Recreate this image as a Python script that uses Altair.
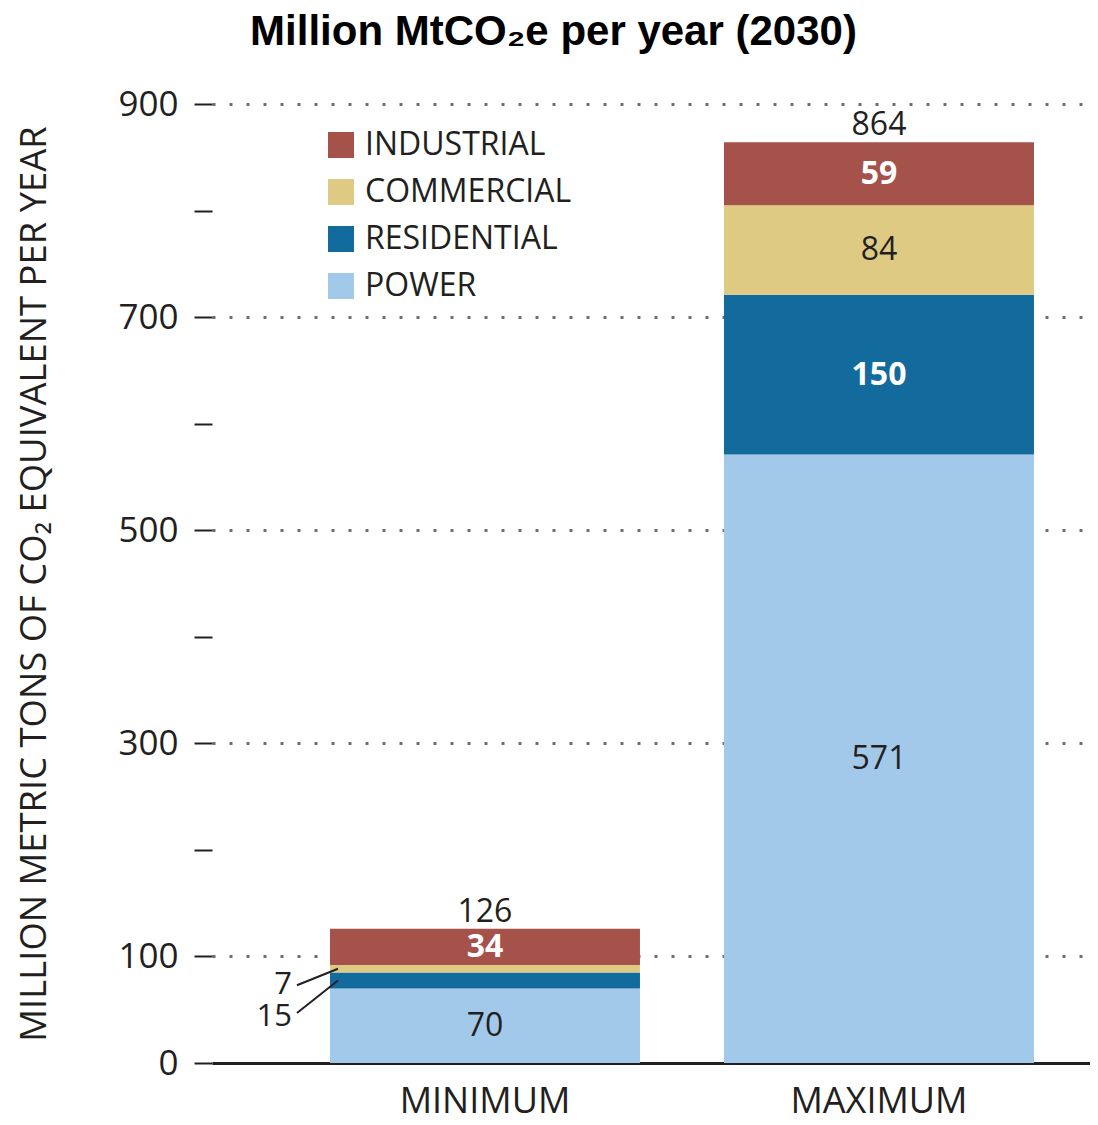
import altair as alt
import pandas as pd

# ---- data ----
scenarios = ["MINIMUM", "MAXIMUM"]
legend_order = ["INDUSTRIAL", "COMMERCIAL", "RESIDENTIAL", "POWER"]
stack_order = ["POWER", "RESIDENTIAL", "COMMERCIAL", "INDUSTRIAL"]
sector_colors = ["#a4524a", "#dfca84", "#136a9c", "#a2c8ea"]
power = [70, 571]
residential = [15, 150]
commercial = [7, 84]
industrial = [34, 59]
totals = [126, 864]
# call-out labels for the thin MINIMUM segments
callout_sector = ["COMMERCIAL", "RESIDENTIAL"]
callout_text = ["7", "15"]
callout_label_y = [73, 43]
callout_line_y = [73, 47]

TEXT = "#231f20"
FONT = "Open Sans"

W, H = 878, 959
P_IN, P_OUT, ALIGN = 0.2132, 0.2208, 0.678
step = W / (len(scenarios) - P_IN + 2 * P_OUT)
half_band = step * (1 - P_IN) / 2

series = {"POWER": power, "RESIDENTIAL": residential,
          "COMMERCIAL": commercial, "INDUSTRIAL": industrial}
rows = []
for i, sc in enumerate(scenarios):
    base = 0
    for k, sec in enumerate(stack_order):
        v = series[sec][i]
        style = "callout" if v < 20 else ("light" if sec in ("INDUSTRIAL", "RESIDENTIAL") else "dark")
        rows.append(dict(scenario=sc, sector=sec, value=v, lo=base, hi=base + v,
                         mid=base + v / 2, style=style))
        base += v
df = pd.DataFrame(rows)
df_tot = pd.DataFrame({"scenario": scenarios, "total": totals})

mids = {r.sector: r.mid for r in df[df.scenario == "MINIMUM"].itertuples()}
df_call = pd.DataFrame({
    "scenario": ["MINIMUM"] * len(callout_text),
    "text": callout_text,
    "label_y": callout_label_y,
    "line_y": callout_line_y,
    "target": [mids[s] for s in callout_sector],
})

xscale = alt.Scale(domain=scenarios, paddingInner=P_IN, paddingOuter=P_OUT, align=ALIGN)
yscale = alt.Scale(domain=[0, 900], nice=False)

x_enc = alt.X("scenario:N", scale=xscale, sort=scenarios,
              axis=alt.Axis(title=None, labelAngle=0, ticks=False, domainWidth=3,
                            domainColor=TEXT, labelFont=FONT, labelFontSize=36,
                            labelColor=TEXT, labelPadding=21))

bars = alt.Chart(df).mark_bar().encode(
    x=x_enc,
    y=alt.Y("lo:Q", scale=yscale,
            title="MILLION METRIC TONS OF CO\u2082 EQUIVALENT PER YEAR",
            axis=alt.Axis(values=list(range(0, 901, 100)),
                          labelExpr="(datum.value % 200 == 100 || datum.value == 0) ? datum.label : ''",
                          tickSize=18, tickWidth=2, tickColor=TEXT, domain=False,
                          grid=True, gridDash=[3, 14], gridWidth=3, gridColor="#6d6e71",
                          gridOpacity={"condition": {"test": "datum.value % 200 == 100", "value": 1}, "value": 0},
                          labelFont=FONT, labelFontSize=35, labelColor=TEXT, labelPadding=16,
                          titleFont=FONT, titleFontSize=36.4, titleFontWeight="normal",
                          titleColor=TEXT, titlePadding=64)),
    y2="hi:Q",
    color=alt.Color("sector:N",
                    scale=alt.Scale(domain=legend_order, range=sector_colors),
                    legend=alt.Legend(title=None, orient="none", legendX=113, legendY=25,
                                      symbolType="square", symbolSize=676,
                                      symbolStrokeWidth=0, labelFont=FONT,
                                      labelFontSize=32, labelColor=TEXT, labelLimit=0,
                                      rowPadding=15, labelOffset=8)),
)

dark_txt = alt.Chart(df).transform_filter("datum.style == 'dark'").mark_text(
    font=FONT, fontSize=32, color=TEXT, baseline="middle").encode(
    x=alt.X("scenario:N", scale=xscale, sort=scenarios), y=alt.Y("mid:Q", scale=yscale),
    text="value:Q")

light_txt = alt.Chart(df).transform_filter("datum.style == 'light'").mark_text(
    font=FONT, fontSize=32, fontWeight="bold", color="white", baseline="middle").encode(
    x=alt.X("scenario:N", scale=xscale, sort=scenarios), y=alt.Y("mid:Q", scale=yscale),
    text="value:Q")

tot_txt = alt.Chart(df_tot).mark_text(
    font=FONT, fontSize=32, color=TEXT, baseline="alphabetic", dy=-7).encode(
    x=alt.X("scenario:N", scale=xscale, sort=scenarios), y=alt.Y("total:Q", scale=yscale),
    text="total:Q")

call_txt = alt.Chart(df_call).mark_text(
    font=FONT, fontSize=31, color=TEXT, baseline="middle", align="right", dx=-38).encode(
    x=alt.X("scenario:N", scale=xscale, sort=scenarios, bandPosition=0),
    y=alt.Y("label_y:Q", scale=yscale), text="text:N")

call_line = alt.Chart(df_call).mark_rule(
    color=TEXT, strokeWidth=2, xOffset=-33, x2Offset=8 - half_band).encode(
    x=alt.X("scenario:N", scale=xscale, sort=scenarios, bandPosition=0),
    x2=alt.X2("scenario"),
    y=alt.Y("line_y:Q", scale=yscale), y2=alt.Y2("target:Q"))

chart = alt.layer(bars, dark_txt, light_txt, tot_txt, call_line, call_txt).properties(
    width=W, height=H,
    autosize=alt.AutoSizeParams(type="none"),
    padding={"left": 204, "top": 96, "right": 0, "bottom": 54},
    title=alt.TitleParams("Million MtCO\u2082e per year (2030)", font="Liberation Sans",
                          fontSize=42, fontWeight="bold", color="black",
                          anchor="middle", frame="bounds", offset=33),
).configure_view(stroke=None)

chart.save("out.html", embed_options={"renderer": "svg", "actions": False})
